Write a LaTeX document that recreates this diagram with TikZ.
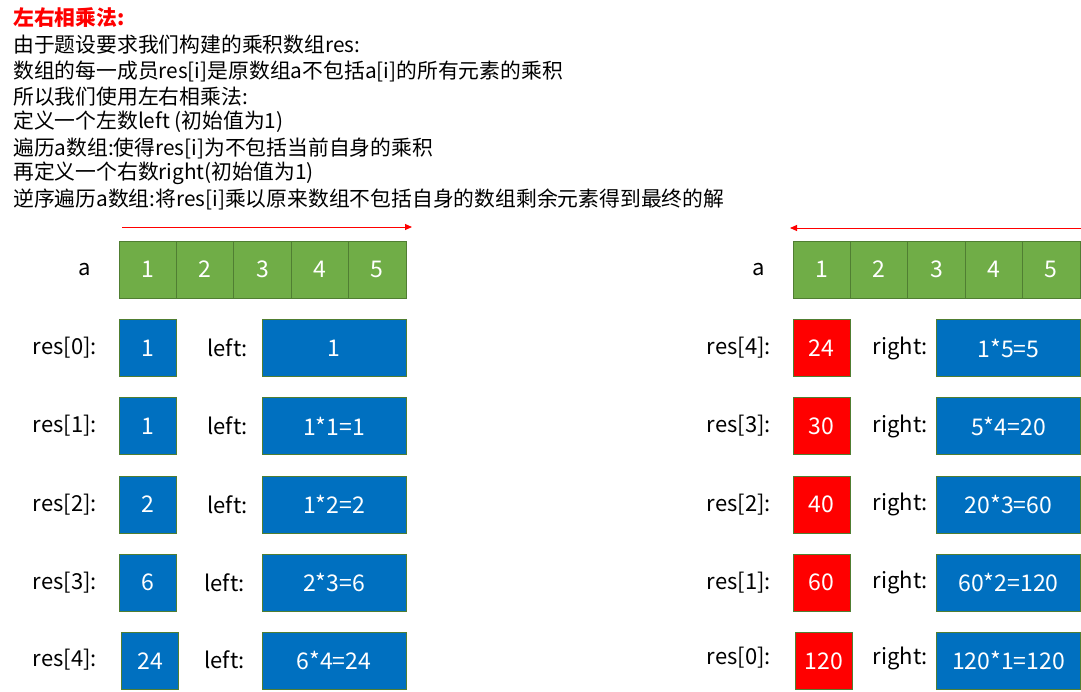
\documentclass[tikz,border=0pt]{standalone}
\usepackage{fontspec}
\setmainfont{Noto Sans CJK SC}
\usetikzlibrary{arrows.meta}
\definecolor{cgreen}{HTML}{70AD47}
\definecolor{cborder}{HTML}{507E32}
\definecolor{cblue}{HTML}{0070C0}
\definecolor{cred}{HTML}{FF0000}
\tikzset{
  cell/.style={draw=cborder, line width=1pt, text=white, font=\fontsize{23}{26}\selectfont, inner sep=0pt},
  acell/.style={cell, fill=cgreen, minimum width=57.4pt, minimum height=57pt},
  rbox/.style={cell, fill=cblue, minimum width=57pt, minimum height=57pt},
  xbox/.style={cell, fill=cred, minimum width=57pt, minimum height=57pt},
  wbox/.style={cell, fill=cblue, minimum width=144pt, minimum height=57pt},
  lab/.style={font=\fontsize{22}{25}\selectfont, inner sep=0pt, anchor=east},
  line/.style={font=\fontsize{20.8}{24}\selectfont, inner sep=0pt, anchor=west},
  redarrow/.style={draw=cred, line width=1pt, -{Triangle[length=7pt,width=6pt]}}
}
\begin{document}
\begin{tikzpicture}[x=1pt,y=-1pt]
\useasboundingbox (0,0) rectangle (1081,691);
% text block
\node[line, text=cred, font=\fontsize{20.8}{24}\selectfont\bfseries] (t0) at (13,18) {左右相乘法:};
\node[line] (t1) at (13,45) {由于题设要求我们构建的乘积数组res:};
\node[line] (t2) at (13,71) {数组的每一成员res[i]是原数组a不包括a[i]的所有元素的乘积};
\node[line] (t3) at (13,97) {所以我们使用左右相乘法:};
\node[line] (t4) at (13,122) {定义一个左数left (初始值为1)};
\node[line] (t5) at (13,148) {遍历a数组:使得res[i]为不包括当前自身的乘积};
\node[line] (t6) at (13,173) {再定义一个右数right(初始值为1)};
\node[line] (t7) at (13,199) {逆序遍历a数组:将res[i]乘以原来数组不包括自身的数组剩余元素得到最终的解};
% arrows
\coordinate (la0) at (122,227); \coordinate (la1) at (412,227);
\draw[redarrow] (la0) -- (la1);
\coordinate (ra0) at (1081,228); \coordinate (ra1) at (790,228);
\draw[redarrow] (ra0) -- (ra1);
% left array
\node[lab] (alab) at (91,270) {a};
\foreach \v [count=\i from 0] in {1,2,3,4,5} {
  \node[acell] (L\i) at (147.7+57.4*\i,269.5) {\v};
}
% right array
\node[lab] (blab) at (765,270) {a};
\foreach \v [count=\i from 0] in {1,2,3,4,5} {
  \node[acell] (R\i) at (821.7+57.4*\i,269.5) {\v};
}
% left rows
\node[lab] (lr0) at (97,348) {res[0]:};
\node[rbox] (lb0) at (147.5,348) {1};
\node[lab] (ll0) at (248,348) {left:};
\node[wbox] (lw0) at (334,348) {1};
\node[lab] (lr1) at (97,426) {res[1]:};
\node[rbox] (lb1) at (147.5,426) {1};
\node[lab] (ll1) at (248,426) {left:};
\node[wbox] (lw1) at (334,426) {1*1=1};
\node[lab] (lr2) at (97,504.5) {res[2]:};
\node[rbox] (lb2) at (147.5,504.5) {2};
\node[lab] (ll2) at (248,504.5) {left:};
\node[wbox] (lw2) at (334,504.5) {1*2=2};
\node[lab] (lr3) at (97,582.5) {res[3]:};
\node[rbox] (lb3) at (147.5,582.5) {6};
\node[lab] (ll3) at (245,582.5) {left:};
\node[wbox] (lw3) at (334,582.5) {2*3=6};
\node[lab] (lr4) at (97,660) {res[4]:};
\node[rbox] (lb4) at (150,661) {24};
\node[lab] (ll4) at (245,660) {left:};
\node[wbox] (lw4) at (334,660.5) {6*4=24};
% right rows
\node[lab] (rr0) at (771,348) {res[4]:};
\node[xbox] (rb0) at (821.5,348) {24};
\node[lab] (rl0) at (928,348) {right:};
\node[wbox] (rw0) at (1008.5,348) {1*5=5};
\node[lab] (rr1) at (771,426) {res[3]:};
\node[xbox] (rb1) at (821.5,426) {30};
\node[lab] (rl1) at (928,426) {right:};
\node[wbox] (rw1) at (1008.5,426) {5*4=20};
\node[lab] (rr2) at (771,504.5) {res[2]:};
\node[xbox] (rb2) at (821.5,504.5) {40};
\node[lab] (rl2) at (928,504.5) {right:};
\node[wbox] (rw2) at (1008.5,504.5) {20*3=60};
\node[lab] (rr3) at (771,582.5) {res[1]:};
\node[xbox] (rb3) at (821.5,582.5) {60};
\node[lab] (rl3) at (928,582.5) {right:};
\node[wbox] (rw3) at (1008.5,582.5) {60*2=120};
\node[lab] (rr4) at (771,658) {res[0]:};
\node[xbox] (rb4) at (824,661) {120};
\node[lab] (rl4) at (928,658) {right:};
\node[wbox] (rw4) at (1008.5,660.5) {120*1=120};
\end{tikzpicture}
\end{document}
